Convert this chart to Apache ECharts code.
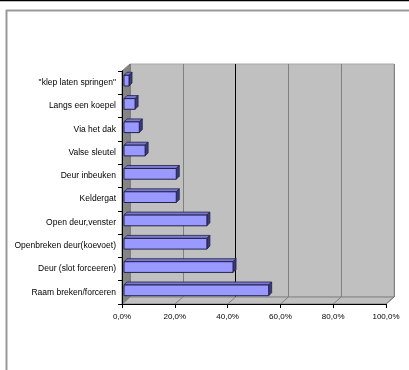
<!DOCTYPE html>
<html><head><meta charset="utf-8">
<script src="https://cdn.jsdelivr.net/npm/echarts@6/dist/echarts.min.js"></script>
<style>html,body{margin:0;padding:0;background:#fff}#c{width:409px;height:370px}</style>
</head><body><div id="c"></div>
<script>
const categories = ['"klep laten springen"','Langs een koepel','Via het dak','Valse sleutel','Deur inbeuken','Keldergat','Open deur,venster','Openbreken deur(koevoet)','Deur (slot forceeren)','Raam breken/forceren'];
const values = [1.9, 4.2, 5.8, 8.0, 19.8, 19.8, 31.4, 31.4, 41.3, 54.8];
const xTicks = [0, 20, 40, 60, 80, 100];

const FL = 122, FT = 71, FW = 264, FH = 233; // front plane
const DX = 8, DY = -7; // depth offset
const chart = echarts.init(document.getElementById('c'), null, {renderer:'canvas'});

const gfx = [];
// outer frame
gfx.push({type:'line', shape:{x1:0,y1:0.5,x2:409,y2:0.5}, style:{stroke:'#000',lineWidth:1.5}, z:1});
gfx.push({type:'line', shape:{x1:6.5,y1:10,x2:6.5,y2:370}, style:{stroke:'#999',lineWidth:2}, z:1});
gfx.push({type:'line', shape:{x1:6,y1:10.5,x2:409,y2:10.5}, style:{stroke:'#999',lineWidth:2}, z:1});
// side wall
gfx.push({type:'polygon', shape:{points:[[FL,FT],[FL+DX,FT+DY],[FL+DX,FT+FH+DY],[FL,FT+FH]]}, style:{fill:'#858585',stroke:'#7a7a7a',lineWidth:1}, z:1});
// floor
gfx.push({type:'polygon', shape:{points:[[FL,FT+FH],[FL+DX,FT+FH+DY],[FL+FW+DX,FT+FH+DY],[FL+FW,FT+FH]]}, style:{fill:'#c0c0c0',stroke:'#808080',lineWidth:1}, z:1});
xTicks.forEach(t => {
  const x = FL + FW * t / 100;
  gfx.push({type:'line', shape:{x1:x,y1:FT+FH,x2:x+DX,y2:FT+FH+DY}, style:{stroke:'#808080',lineWidth:1}, z:1});
});

chart.setOption({
  animation:false,
  textStyle:{fontFamily:'Liberation Sans, Arial, sans-serif'},
  graphic: gfx,
  grid:[
    {left:FL+DX, top:FT+DY, width:FW, height:FH, show:true, backgroundColor:'#c0c0c0', borderColor:'#a8a8a8', borderWidth:1, z:0},
    {left:FL, top:FT, width:FW, height:FH, show:false}
  ],
  xAxis:[
    {gridIndex:0, type:'value', min:0, max:100, interval:20, axisLine:{show:false}, axisTick:{show:false}, axisLabel:{show:false},
     splitLine:{show:true, showMinLine:true, showMaxLine:true, lineStyle:{color:['#808080','#808080','#000000','#808080','#808080','#808080'], width:1}}},
    {gridIndex:1, type:'value', min:0, max:100, interval:20, z:5,
     axisLine:{show:true, onZero:false, lineStyle:{color:'#000', width:1}},
     axisTick:{show:true, length:4, inside:false, lineStyle:{color:'#000'}},
     splitLine:{show:false},
     axisLabel:{color:'#000', fontSize:8, margin:9, formatter:v => v.toFixed(1).replace('.', ',') + '%'}}
  ],
  yAxis:[
    {gridIndex:0, type:'value', show:false, splitLine:{show:false}},
    {gridIndex:1, type:'category', data:categories, inverse:true, z:5,
     axisLine:{show:true, onZero:false, lineStyle:{color:'#000', width:1}},
     axisTick:{show:true, length:4, alignWithLabel:false, lineStyle:{color:'#000'}},
     axisLabel:{color:'#000', fontSize:8.5, margin:6},
     splitLine:{show:false}}
  ],
  series:[{
    type:'custom', xAxisIndex:1, yAxisIndex:1, z:10,
    encode:{x:0, y:1},
    data: values.map((v,i) => [v, i]),
    renderItem(params, api){
      const v = api.value(0), c = api.value(1);
      const p0 = api.coord([0, c]), p1 = api.coord([v, c]);
      const band = api.size([0, 1])[1];
      const h = band * 0.46, d = 3, ox = 2, oy = -2;
      const x0 = p0[0] + ox, x1 = p1[0] + ox, yc = p0[1] + oy;
      const y0 = yc - h/2, y1 = yc + h/2;
      const st = '#22224d';
      return {type:'group', children:[
        {type:'polygon', shape:{points:[[x0,y0],[x0+d,y0-d],[x1+d,y0-d],[x1,y0]]}, style:{fill:'#7a7acc', stroke:st, lineWidth:0.8}},
        {type:'polygon', shape:{points:[[x1,y0],[x1+d,y0-d],[x1+d,y1-d],[x1,y1]]}, style:{fill:'#3a3a7a', stroke:st, lineWidth:0.8}},
        {type:'rect', shape:{x:x0, y:y0, width:x1-x0, height:h}, style:{fill:'#9999ff', stroke:st, lineWidth:1}}
      ]};
    }
  }]
});
</script></body></html>
